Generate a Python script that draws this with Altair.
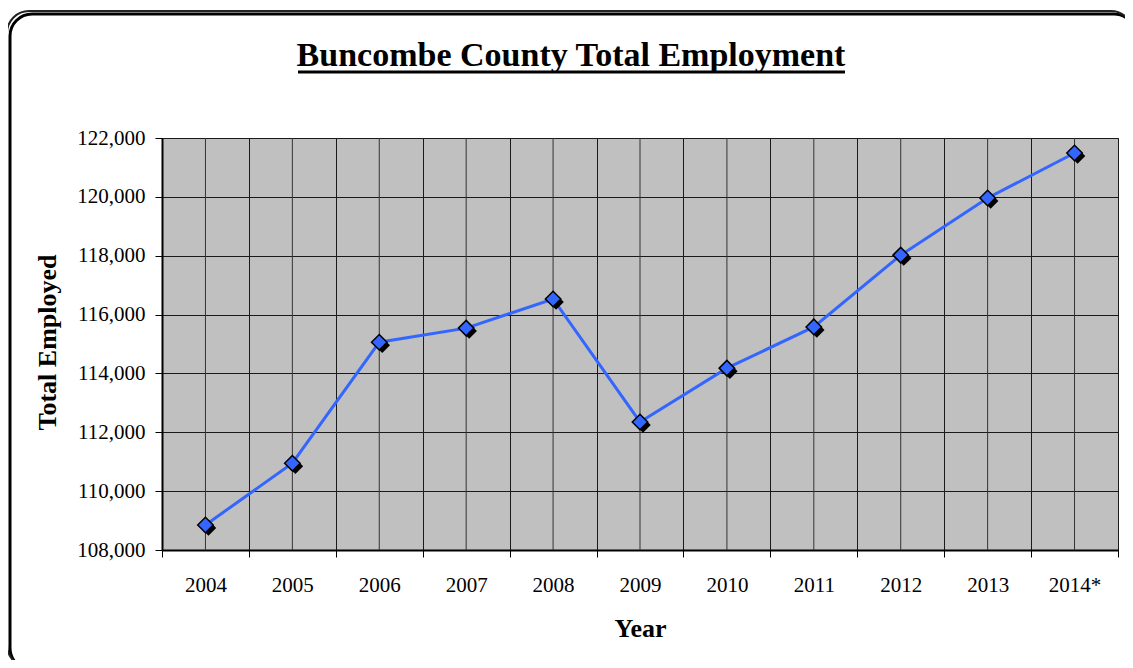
import altair as alt
import pandas as pd

years = ["2004", "2005", "2006", "2007", "2008", "2009", "2010", "2011", "2012", "2013", "2014*"]
employed = [108850, 110950, 115060, 115540, 116530, 112350, 114180, 115580, 118020, 119960, 121490]

df = pd.DataFrame({"year": years, "employed": employed})

W, H = 956, 412
FONT = "Liberation Serif"
BLUE = "#3366FF"

xenc = alt.X("year:N", sort=years, title="Year",
             scale=alt.Scale(type="band", paddingInner=0, paddingOuter=0),
             axis=alt.Axis(tickBand="extent", grid=True, gridColor="#1a1a1a", gridWidth=1,
                           labelAngle=0, labelFont=FONT, labelFontSize=21, labelColor="black",
                           labelBaseline="alphabetic", labelPadding=34, labelAlign="center",
                           tickColor="black", tickSize=7, domainColor="black", domainWidth=2,
                           titleFont=FONT, titleFontSize=26, titleFontWeight="bold", titleColor="black",
                           titleBaseline="alphabetic", titleY=86, titleX=W / 2))
yenc = alt.Y("employed:Q", title="Total Employed",
             scale=alt.Scale(domain=[108000, 122000], nice=False, zero=False),
             axis=alt.Axis(values=list(range(108000, 122001, 2000)), format=",.0f",
                           grid=True, gridColor="#1a1a1a", gridWidth=1,
                           labelFont=FONT, labelFontSize=21, labelColor="black", labelPadding=10,
                           tickColor="black", tickSize=7, domainColor="black", domainWidth=2,
                           titleFont=FONT, titleFontSize=26, titleFontWeight="bold", titleColor="black",
                           titleAngle=270, titleAlign="center", titleBaseline="alphabetic",
                           titleX=-107, titleY=204))

base = alt.Chart(df)

center_grid = base.mark_rule(color="#333333", strokeWidth=1).encode(
    x=alt.X("year:N", sort=years), y=alt.value(0), y2=alt.value(H))

line = base.mark_line(color=BLUE, strokeWidth=3).encode(x=xenc, y=yenc)

shadow = base.mark_point(shape="diamond", size=240, filled=True, color="black", opacity=1,
                         xOffset=3, yOffset=3).encode(x=alt.X("year:N", sort=years), y="employed:Q")
points = base.mark_point(shape="diamond", size=240, filled=True, fill=BLUE, stroke="black",
                         strokeWidth=1.5, opacity=1).encode(x=alt.X("year:N", sort=years), y="employed:Q")

one = alt.Data(values=[{"t": "Buncombe County Total Employment"}])

border_shadow = alt.Chart(one).mark_rect(fillOpacity=0, stroke="black", strokeWidth=3,
                                         cornerRadius=22).encode(
    x=alt.value(-152), x2=alt.value(974), y=alt.value(-124), y2=alt.value(532))
border = alt.Chart(one).mark_rect(fill="white", fillOpacity=0, stroke="#222222", strokeWidth=2,
                                  cornerRadius=22).encode(
    x=alt.value(-155), x2=alt.value(971), y=alt.value(-127), y2=alt.value(529))

title = alt.Chart(one).mark_text(font=FONT, fontSize=34, fontWeight="bold", color="black",
                                 align="center", baseline="alphabetic").encode(
    text="t:N", x=alt.value(409), y=alt.value(-72))
underline = alt.Chart(one).mark_rule(color="black", strokeWidth=3).encode(
    x=alt.value(136), x2=alt.value(683), y=alt.value(-66))

chart = alt.layer(border_shadow, border, title, underline, center_grid, line, shadow, points).properties(
    width=W, height=H,
    autosize=alt.AutoSizeParams(type="none"),
    padding={"left": 154, "top": 130, "right": 7, "bottom": 110},
).configure(background="white").configure_view(fill="#C0C0C0", stroke="#555555", strokeWidth=1)

chart.save("out.html", embed_options={"renderer": "svg", "actions": False})
